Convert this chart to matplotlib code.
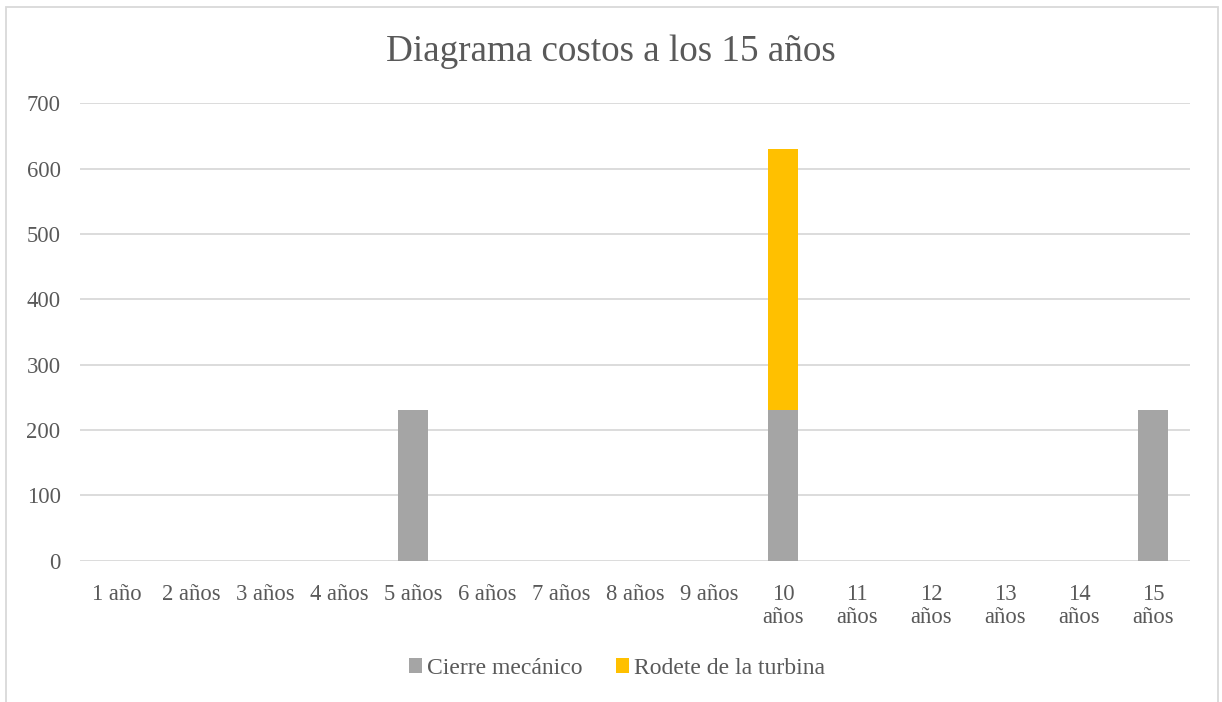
import matplotlib.pyplot as plt
from matplotlib.patches import Rectangle

# Costos por año
years = ["1 año", "2 años", "3 años", "4 años", "5 años", "6 años", "7 años",
         "8 años", "9 años", "10\naños", "11\naños", "12\naños", "13\naños",
         "14\naños", "15\naños"]
cierre = [0, 0, 0, 0, 230, 0, 0, 0, 0, 230, 0, 0, 0, 0, 230]
rodete = [0, 0, 0, 0, 0, 0, 0, 0, 0, 400, 0, 0, 0, 0, 0]

plt.rcParams['font.family'] = ['Liberation Serif', 'DejaVu Serif']
txt = '#595959'

fig = plt.figure(figsize=(12.22, 7.02), dpi=100)
ax = fig.add_axes([0.0655, 0.2013, 0.9085, 0.6517])

x = range(len(years))
ax.bar(x, cierre, width=0.4, color='#a5a5a5', label='Cierre mecánico', zorder=2)
ax.bar(x, rodete, width=0.4, bottom=cierre, color='#ffc000',
       label='Rodete de la turbina', zorder=2)

ax.set_xlim(-0.5, len(years) - 0.5)
ax.set_ylim(0, 700)
ax.set_yticks(range(0, 701, 100))
ax.set_xticks(list(x))
ax.set_xticklabels(years, linespacing=1.15)
ax.grid(axis='y', color='#d9d9d9', linewidth=1.3, zorder=0)
for s in ax.spines.values():
    s.set_visible(False)
ax.tick_params(length=0, labelsize=16.3, colors=txt)
ax.tick_params(axis='x', pad=16.5)
ax.tick_params(axis='y', pad=14)

fig.text(0.5, 0.926, "Diagrama costos a los 15 años", ha='center', va='center',
         fontsize=26.7, color=txt)

leg = fig.legend(loc='center', bbox_to_anchor=(0.505, 0.048), ncol=2, frameon=False,
                 fontsize=17, handlelength=0.55, handleheight=0.55,
                 handletextpad=0.2, columnspacing=1.45, labelcolor=txt,
                 borderpad=0)

# marco del gráfico
fig.patches.append(Rectangle((6 / 1222, -0.05), 1212 / 1222, 1.05 - 7 / 702,
                             transform=fig.transFigure, fill=False,
                             edgecolor='#d9d9d9', linewidth=1.3))

fig.savefig('out.png', dpi=100)
